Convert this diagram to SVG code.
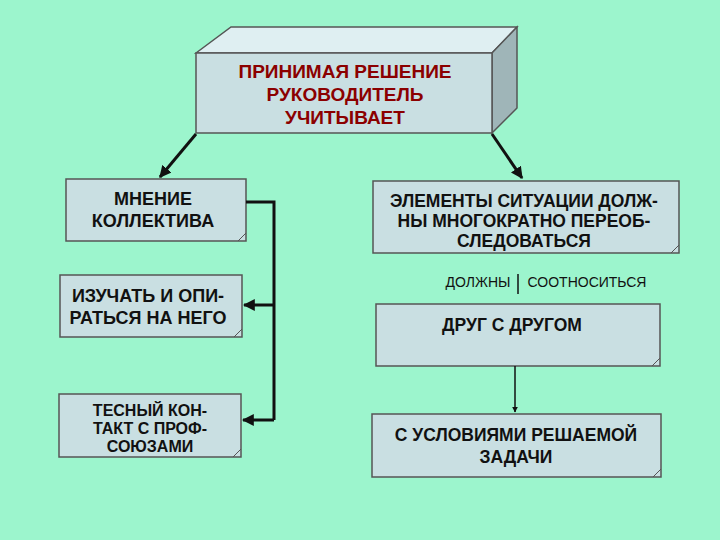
<svg xmlns="http://www.w3.org/2000/svg" width="720" height="540" viewBox="0 0 720 540">
<style>
.b{fill:#c9dfe2;stroke:#555;stroke-width:1.5}
.t{font-family:"Liberation Sans",Arial,sans-serif;font-weight:bold;font-size:17.5px;fill:#111;text-anchor:middle}
.l{font-size:18px}
.s{font-size:16px}
.r{fill:#8b0000;font-size:19px}
.c{fill:none;stroke:#111;stroke-width:3}
.f{fill:none;stroke:#555;stroke-width:1}
</style>
<defs><marker id="a" viewBox="0 0 10 10" refX="9" refY="5" markerWidth="4" markerHeight="4" orient="auto"><path d="M0,0L10,5L0,10z" fill="#111"/></marker></defs>
<rect width="720" height="540" fill="#9cf5cd"/>
<g id="top">
<polygon points="196,53 231,27 517,27 492,53" fill="#dfeff2" stroke="#555" stroke-width="1.5"/>
<polygon points="492,53 517,27 517,108 492,133" fill="#9fb5b8" stroke="#555" stroke-width="1.5"/>
<rect class="b" x="196" y="53" width="296" height="80"/>
<text class="t r" x="345" y="78">ПРИНИМАЯ РЕШЕНИЕ</text>
<text class="t r" x="345" y="101">РУКОВОДИТЕЛЬ</text>
<text class="t r" x="345" y="124">УЧИТЫВАЕТ</text>
</g>
<g id="n1"><rect class="b" x="66" y="179" width="180" height="62"/><path class="f" d="M238,241 L246,233"/>
<text class="t l" x="153" y="205">МНЕНИЕ</text><text class="t l" x="153" y="227">КОЛЛЕКТИВА</text></g>
<g id="n2"><rect class="b" x="60" y="275" width="182" height="62"/><path class="f" d="M234,337 L242,329"/>
<text class="t l" x="148" y="302">ИЗУЧАТЬ И ОПИ-</text><text class="t l" x="148" y="324">РАТЬСЯ НА НЕГО</text></g>
<g id="n3"><rect class="b" x="59" y="394" width="182" height="63"/><path class="f" d="M233,457 L241,449"/>
<text class="t s" x="150" y="416">ТЕСНЫЙ КОН-</text><text class="t s" x="150" y="434">ТАКТ С ПРОФ-</text><text class="t s" x="150" y="452">СОЮЗАМИ</text></g>
<g id="n4"><rect class="b" x="373" y="181" width="306" height="72"/><path class="f" d="M671,253 L679,245"/>
<text class="t" x="524" y="207">ЭЛЕМЕНТЫ СИТУАЦИИ ДОЛЖ-</text><text class="t" x="524" y="227">НЫ МНОГОКРАТНО ПЕРЕОБ-</text><text class="t" x="524" y="247">СЛЕДОВАТЬСЯ</text></g>
<g id="n5"><rect class="b" x="376" y="304" width="284" height="62"/><path class="f" d="M652,366 L660,358"/>
<text class="t" x="512" y="331">ДРУГ С ДРУГОМ</text></g>
<g id="n6"><rect class="b" x="372" y="414" width="289" height="63"/><path class="f" d="M653,477 L661,469"/>
<text class="t" x="516" y="441">С УСЛОВИЯМИ РЕШАЕМОЙ</text><text class="t" x="516" y="463">ЗАДАЧИ</text></g>
<g id="lbl"><text class="t" x="478" y="287" style="font-size:14px;font-weight:normal">ДОЛЖНЫ</text><text class="t" x="587" y="287" style="font-size:14px;font-weight:normal">СООТНОСИТЬСЯ</text></g>
<g id="connectors">
<path d="M518,274 V294" stroke="#111" stroke-width="1.5"/>
<path class="c" d="M196,134 L160,177" marker-end="url(#a)"/>
<path class="c" d="M492,134 L522,178" marker-end="url(#a)"/>
<path class="c" d="M246,202 H274 V420"/>
<path class="c" d="M274,305 H244" marker-end="url(#a)"/>
<path class="c" d="M274,420 H243" marker-end="url(#a)"/>
<path d="M515,366 V412" stroke="#111" stroke-width="1.5" marker-end="url(#a)" fill="none"/>
</g>
</svg>
